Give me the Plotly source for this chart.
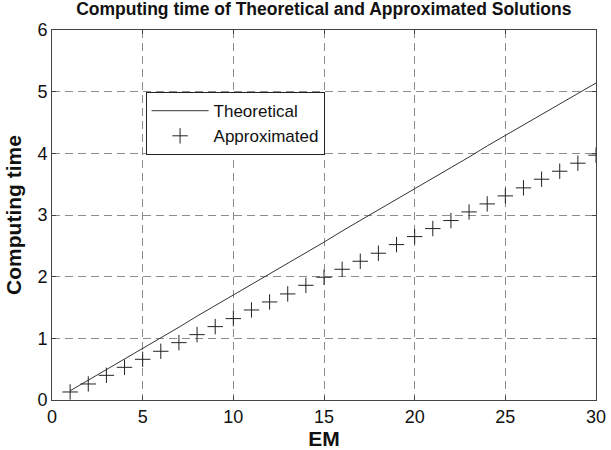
import plotly.graph_objects as go

em = list(range(1, 31))
theoretical = [0.15, 0.32, 0.49, 0.67, 0.84, 1.01, 1.18, 1.36, 1.53, 1.70,
               1.87, 2.05, 2.22, 2.39, 2.56, 2.74, 2.91, 3.08, 3.25, 3.43,
               3.60, 3.77, 3.94, 4.12, 4.29, 4.46, 4.63, 4.81, 4.98, 5.14]
approximated = [0.13, 0.26, 0.40, 0.53, 0.66, 0.79, 0.93, 1.06, 1.19, 1.32,
                1.46, 1.59, 1.72, 1.86, 1.99, 2.12, 2.25, 2.38, 2.52, 2.65,
                2.78, 2.91, 3.05, 3.18, 3.31, 3.44, 3.58, 3.71, 3.84, 3.97]
x_ticks = [0, 5, 10, 15, 20, 25, 30]
y_ticks = [0, 1, 2, 3, 4, 5, 6]

FONT = "Liberation Sans, Arial, sans-serif"

fig = go.Figure()
fig.add_trace(go.Scatter(x=em, y=theoretical, mode="lines", name="Theoretical",
                         line=dict(color="#333333", width=1)))
fig.add_trace(go.Scatter(x=em, y=approximated, mode="markers", name="Approximated",
                         marker=dict(symbol="cross-thin", size=11,
                                     line=dict(color="#222222", width=1)),
                         cliponaxis=True))

axis_common = dict(showline=True, linecolor="#444444", linewidth=1, mirror="ticks",
                   ticks="inside", ticklen=4, tickcolor="#444444", automargin=False,
                   showgrid=True, gridcolor="#8c8c8c", griddash="8px,5px", gridwidth=1,
                   zeroline=False, tickfont=dict(family=FONT, size=18, color="#111111"))

fig.update_xaxes(range=[0, 30], tickvals=x_ticks, **axis_common,
                 title=dict(text="<b>EM</b>", font=dict(family=FONT, size=21, color="#111111"),
                            standoff=4))
fig.update_yaxes(range=[0, 6], tickvals=y_ticks, **axis_common,
                 title=dict(text="<b>Computing time</b>", font=dict(family=FONT, size=21, color="#111111"),
                            standoff=10))

fig.update_layout(
    width=611, height=450,
    margin=dict(l=52, r=15, t=30, b=50),
    paper_bgcolor="white", plot_bgcolor="white",
    title=dict(text="<b>Computing time of Theoretical and Approximated Solutions</b>",
               font=dict(family=FONT, size=17.5, color="#111111"),
               x=0.53, xanchor="center", y=0.994, yanchor="top", automargin=False),
    legend=dict(x=0.172, y=0.832, xanchor="left", yanchor="top",
                bgcolor="white", bordercolor="#222222", borderwidth=1,
                font=dict(family=FONT, size=17, color="#111111"),
                itemwidth=57, tracegroupgap=0),
    showlegend=True,
)

fig.write_html("out.html", config={"displayModeBar": False},
               post_script="document.body.style.margin='0';document.body.style.overflow='hidden';")
